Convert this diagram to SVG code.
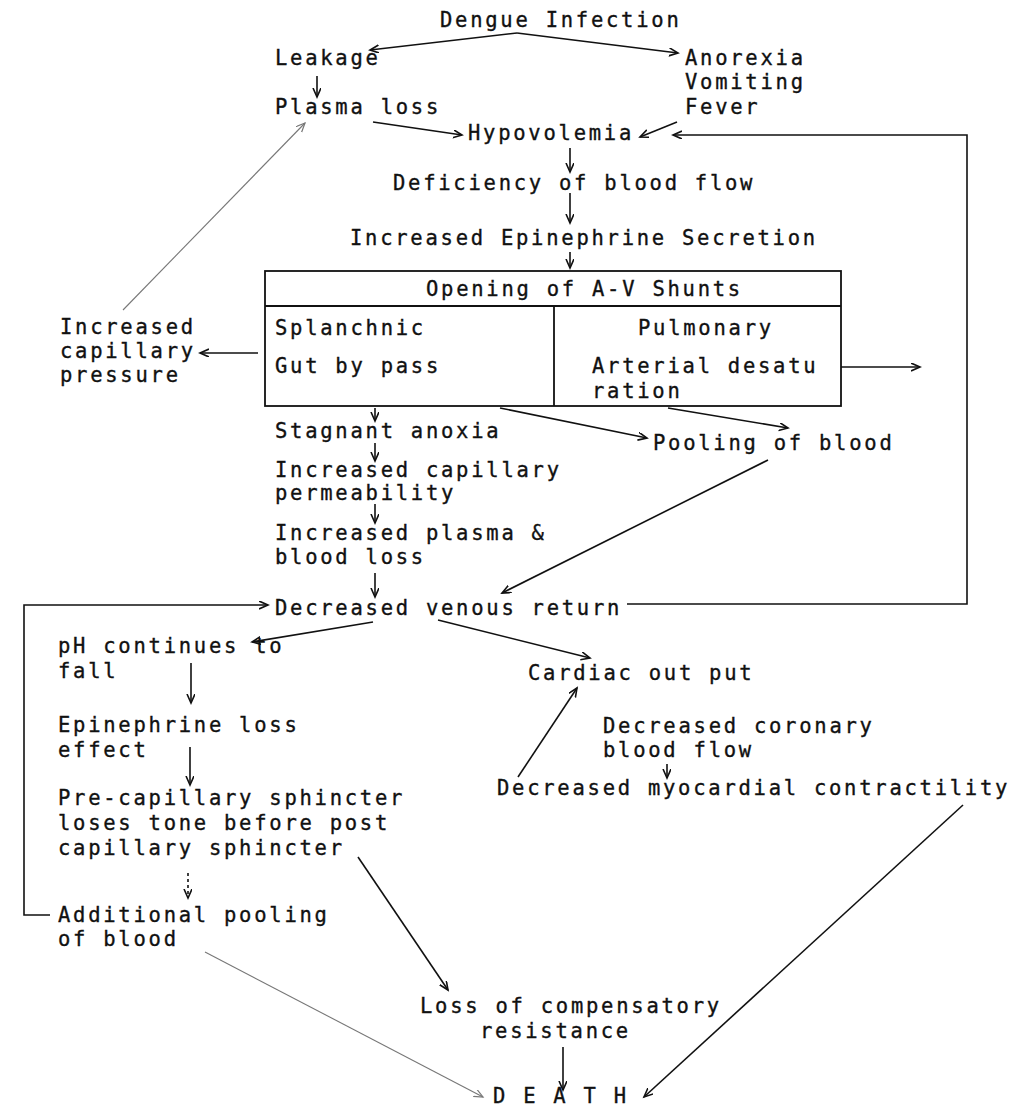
<svg xmlns="http://www.w3.org/2000/svg" width="1019" height="1116" viewBox="0 0 1019 1116">
<style>
text{font-family:"DejaVu Sans Mono","Liberation Mono",monospace;font-size:20.5px;letter-spacing:2.75px;fill:#111;stroke:#111;stroke-width:0.35}
.c line,.c polyline{stroke:#111;stroke-width:1.6;fill:none;marker-end:url(#ah)}
.c .g{stroke:#777;stroke-width:1.1;marker-end:url(#ahg)}
.c .d{stroke-dasharray:3 3}
.box{fill:none;stroke:#111;stroke-width:1.8}
</style>
<defs>
<marker id="ah" markerUnits="userSpaceOnUse" markerWidth="12" markerHeight="10" refX="9" refY="4" orient="auto"><path d="M0,0 L9,4 L0,8" fill="none" stroke="#111" stroke-width="1.6"/></marker>
<marker id="ahg" markerUnits="userSpaceOnUse" markerWidth="12" markerHeight="10" refX="9" refY="4" orient="auto"><path d="M0,0 L9,4 L0,8" fill="none" stroke="#777" stroke-width="1.2"/></marker>
</defs>
<rect width="1019" height="1116" fill="#fff"/>
<g id="dengue"><text x="440" y="27">Dengue Infection</text></g>
<g id="leakage"><text x="275" y="65">Leakage</text></g>
<g id="anorexia"><text x="685" y="65">Anorexia</text><text x="685" y="89">Vomiting</text><text x="685" y="114">Fever</text></g>
<g id="plasma-loss"><text x="275" y="114">Plasma loss</text></g>
<g id="hypovolemia"><text x="468" y="140">Hypovolemia</text></g>
<g id="deficiency"><text x="393" y="190">Deficiency of blood flow</text></g>
<g id="epinephrine"><text x="350" y="245">Increased Epinephrine Secretion</text></g>
<g id="av-shunts">
<rect class="box" x="265" y="271" width="576" height="135"/>
<line class="box" x1="265" y1="306" x2="841" y2="306"/>
<line class="box" x1="554" y1="306" x2="554" y2="406"/>
<text x="426" y="296">Opening of A-V Shunts</text>
<text x="275" y="335">Splanchnic</text>
<text x="275" y="373">Gut by pass</text>
<text x="638" y="335">Pulmonary</text>
<text x="592" y="373">Arterial desatu</text>
<text x="592" y="398">ration</text>
</g>
<g id="cap-pressure"><text x="60" y="334">Increased</text><text x="60" y="358">capillary</text><text x="60" y="382">pressure</text></g>
<g id="stagnant"><text x="275" y="438">Stagnant anoxia</text></g>
<g id="permeability"><text x="275" y="477">Increased capillary</text><text x="275" y="500">permeability</text></g>
<g id="plasma-blood"><text x="275" y="540">Increased plasma &amp;</text><text x="275" y="564">blood loss</text></g>
<g id="pooling"><text x="653" y="450">Pooling of blood</text></g>
<g id="venous"><text x="275" y="615">Decreased venous return</text></g>
<g id="ph"><text x="58" y="653">pH continues to</text><text x="58" y="678">fall</text></g>
<g id="epi-loss"><text x="58" y="732">Epinephrine loss</text><text x="58" y="757">effect</text></g>
<g id="sphincter"><text x="58" y="805">Pre-capillary sphincter</text><text x="58" y="830">loses tone before post</text><text x="58" y="855">capillary sphincter</text></g>
<g id="add-pooling"><text x="58" y="922">Additional pooling</text><text x="58" y="946">of blood</text></g>
<g id="cardiac"><text x="528" y="680">Cardiac out put</text></g>
<g id="coronary"><text x="603" y="733">Decreased coronary</text><text x="603" y="757">blood flow</text></g>
<g id="myocardial"><text x="497" y="795">Decreased myocardial contractility</text></g>
<g id="compensatory"><text x="420" y="1013">Loss of compensatory</text><text x="480" y="1038">resistance</text></g>
<g id="death"><text x="493" y="1103">D E A T H</text></g>
<g id="connectors" class="c">
<line x1="517" y1="33" x2="370" y2="50"/>
<line x1="517" y1="33" x2="678" y2="53"/>
<line x1="317" y1="76" x2="317" y2="97"/>
<line x1="373" y1="122" x2="462" y2="135"/>
<line x1="677" y1="122" x2="640" y2="137"/>
<polyline points="627,604 967,604 967,135 673,135"/>
<line x1="570" y1="148" x2="570" y2="172"/>
<line x1="570" y1="193" x2="570" y2="223"/>
<line x1="570" y1="252" x2="570" y2="268"/>
<line x1="258" y1="353" x2="200" y2="353"/>
<line x1="841" y1="367" x2="920" y2="367"/>
<line class="g" x1="123" y1="310" x2="305" y2="123"/>
<line x1="375" y1="408" x2="375" y2="421"/>
<line x1="500" y1="408" x2="647" y2="438"/>
<line x1="668" y1="408" x2="788" y2="428"/>
<line x1="375" y1="443" x2="375" y2="461"/>
<line x1="375" y1="504" x2="375" y2="523"/>
<line x1="375" y1="573" x2="375" y2="597"/>
<line x1="768" y1="460" x2="502" y2="593"/>
<polyline points="50,915 24,915 24,605 268,605"/>
<line x1="373" y1="622" x2="252" y2="642"/>
<line x1="438" y1="620" x2="590" y2="658"/>
<line x1="191" y1="663" x2="191" y2="703"/>
<line x1="190" y1="747" x2="190" y2="785"/>
<line class="d" x1="188" y1="873" x2="188" y2="898"/>
<line x1="667" y1="764" x2="667" y2="778"/>
<line x1="518" y1="777" x2="577" y2="688"/>
<line x1="358" y1="857" x2="448" y2="990"/>
<line class="g" x1="205" y1="952" x2="483" y2="1097"/>
<line x1="563" y1="1047" x2="563" y2="1090"/>
<line x1="963" y1="805" x2="644" y2="1097"/>
</g>
</svg>
